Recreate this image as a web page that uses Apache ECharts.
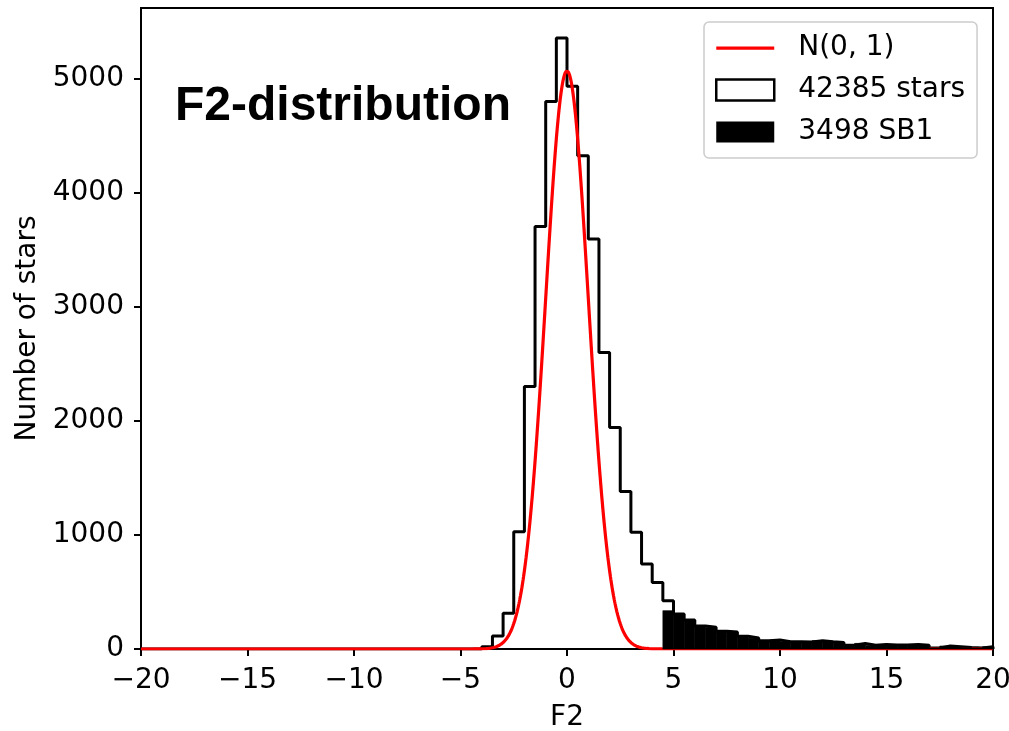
<!DOCTYPE html>
<html>
<head>
<meta charset="utf-8">
<script src="https://cdn.jsdelivr.net/npm/echarts@6/dist/echarts.min.js"></script>
<style>
  html, body { margin: 0; padding: 0; background: #fff; }
  #chart { width: 1009px; height: 731px; }
</style>
</head>
<body>
<div id="chart"></div>
<script>
// ---- data ----
const binWidth = 0.5;
// all stars histogram, bins starting at -4.0 (bins further left are empty)
const allStarsStart = -4.0;
const allStarsCounts = [
  20, 114, 313, 1029, 2301, 3705, 4801, 5357, 4933, 4325,
  3594, 2600, 1942, 1380, 1023, 746, 582, 424,
  307, 254, 202, 190, 155, 149, 111, 96, 73, 79,
  64, 64, 62, 73, 63, 58, 32, 49, 32, 40,
  36, 35, 40, 32, 9, 26, 20, 14, 9, 20
];
// SB1 histogram, bins starting at 4.5
const sb1Start = 4.5;
const sb1Counts = [
  336, 307, 254, 202, 190, 155, 149, 111, 96, 73, 79,
  64, 64, 62, 73, 63, 58, 32, 49, 32, 40,
  36, 35, 40, 32, 9, 26, 20, 14, 9, 20
];
// N(0,1) reference curve parameters (peak height)
const normPeak = 5070;
const normMean = 0;
const normSigma = 1;

const xTicks = [-20, -15, -10, -5, 0, 5, 10, 15, 20];
const yTicks = [0, 1000, 2000, 3000, 4000, 5000];
const xRange = [-20, 20];
const yMax = 5620;

const legendNames = ['N(0, 1)', '42385 stars', '3498 SB1'];
const titleText = 'F2-distribution';

// ---- build series data ----
const stepData = [[xRange[0], 0], [allStarsStart, 0]];
allStarsCounts.forEach((c, i) => stepData.push([allStarsStart + i * binWidth, c]));
const lastEdge = allStarsStart + allStarsCounts.length * binWidth;
stepData.push([lastEdge, allStarsCounts[allStarsCounts.length - 1]]);
stepData.push([lastEdge, 0]);

const sb1Data = sb1Counts.map((c, i) => [sb1Start + i * binWidth, sb1Start + (i + 1) * binWidth, c]);

const normData = [];
for (let k = 0; k <= 2000; k++) {
  const x = xRange[0] + k * (xRange[1] - xRange[0]) / 2000;
  const z = (x - normMean) / normSigma;
  normData.push([x, normPeak * Math.exp(-0.5 * z * z)]);
}

const FONT = 'DejaVu Sans';
const FS = 28;
const lineIcon = 'path://M0,0L58,0L58,0.01L0,0.01Z M0,9L58,9L58,12.2L0,12.2Z M0,21L58,21L58,21.01L0,21.01Z';

const chart = echarts.init(document.getElementById('chart'), null, { renderer: 'canvas' });
chart.setOption({
  animation: false,
  backgroundColor: '#fff',
  grid: {
    left: 141, right: 16, top: 8, bottom: 82,
    outerBoundsMode: 'none', containLabel: false,
    show: true, borderColor: '#000', borderWidth: 2, backgroundColor: 'transparent'
  },
  xAxis: {
    type: 'value', min: xRange[0], max: xRange[1], interval: 5,
    name: 'F2', nameLocation: 'middle', nameGap: 55,
    nameTextStyle: { fontFamily: FONT, fontSize: FS, color: '#000' },
    splitLine: { show: false },
    axisLine: { show: true, onZero: false, lineStyle: { color: '#000', width: 2 } },
    axisTick: { show: true, length: 7, lineStyle: { color: '#000', width: 2 }, customValues: xTicks },
    axisLabel: {
      fontFamily: FONT, fontSize: FS, color: '#000', margin: 18,
      customValues: xTicks,
      formatter: v => String(v).replace('-', '\u2212')
    }
  },
  yAxis: {
    type: 'value', min: 0, max: yMax,
    name: 'Number of stars', nameLocation: 'middle', nameGap: 97, nameRotate: 90,
    nameTextStyle: { fontFamily: FONT, fontSize: FS, color: '#000' },
    splitLine: { show: false },
    axisLine: { show: true, onZero: false, lineStyle: { color: '#000', width: 2 } },
    axisTick: { show: true, length: 7, lineStyle: { color: '#000', width: 2 }, customValues: yTicks },
    axisLabel: {
      fontFamily: FONT, fontSize: FS, color: '#000', margin: 17,
      customValues: yTicks,
      formatter: v => String(v)
    }
  },
  legend: {
    orient: 'vertical', left: 704, top: 22,
    padding: [12, 12, 12, 11],
    itemWidth: 58, itemHeight: 21, itemGap: 14,
    backgroundColor: '#fff', borderColor: '#cccccc', borderWidth: 1.5, borderRadius: 5,
    selectedMode: false,
    textStyle: { fontFamily: FONT, fontSize: FS, color: '#000', padding: [0, 0, 0, 19] },
    data: [
      { name: legendNames[0], icon: lineIcon, itemStyle: { color: '#ff0000', borderWidth: 0 } },
      { name: legendNames[1], icon: 'rect', itemStyle: { color: '#fff', borderColor: '#000', borderWidth: 2.5 } },
      { name: legendNames[2], icon: 'rect', itemStyle: { color: '#000', borderWidth: 0 } }
    ]
  },
  graphic: [{
    type: 'text', left: 175, top: 83, z: 10,
    style: { text: titleText, font: 'bold 48px "Liberation Sans", Arial, sans-serif', fill: '#000' }
  }],
  series: [
    {
      name: legendNames[1], type: 'line', data: stepData, step: 'end',
      symbol: 'none', showSymbol: false, z: 2,
      lineStyle: { color: '#000', width: 3 }, itemStyle: { color: '#000' }
    },
    {
      name: legendNames[0], type: 'line', data: normData,
      symbol: 'none', showSymbol: false, z: 3, smooth: false,
      lineStyle: { color: '#ff0000', width: 3.2 }, itemStyle: { color: '#ff0000' }
    },
    {
      name: legendNames[2], type: 'custom', z: 4,
      data: sb1Data, encode: { x: [0, 1], y: 2 },
      itemStyle: { color: '#000' },
      renderItem: function (params, api) {
        const p0 = api.coord([api.value(0), api.value(2)]);
        const p1 = api.coord([api.value(1), 0]);
        return {
          type: 'rect',
          shape: { x: p0[0], y: p0[1], width: p1[0] - p0[0], height: p1[1] - p0[1] },
          style: { fill: '#000', stroke: '#000', lineWidth: 0.6 }
        };
      }
    }
  ]
});
</script>
</body>
</html>
